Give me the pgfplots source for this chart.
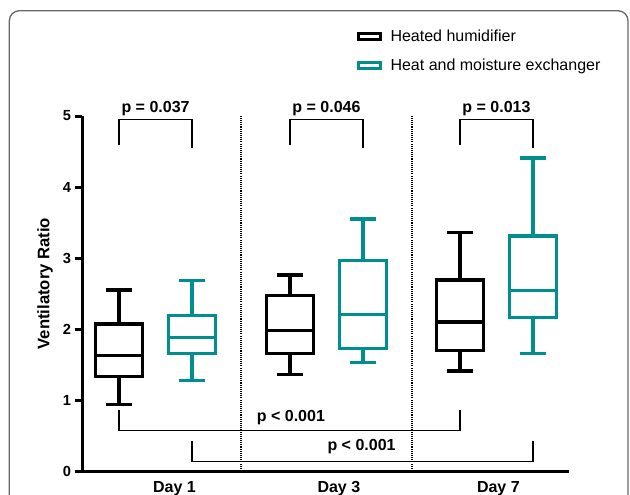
\documentclass[border=0pt]{standalone}
\usepackage{pgfplots}
\pgfplotsset{compat=1.18}
\usepgfplotslibrary{statistics}
\usepackage{fontspec}
\setmainfont{Liberation Sans}
\definecolor{hme}{RGB}{0,142,142}
\definecolor{framegray}{RGB}{105,105,105}

\begin{document}
\begin{tikzpicture}
% page = 630x494 px at 0.75pt per px, axis origin at px (82,471)
\path[use as bounding box] (-61.5pt,-17.25pt) rectangle (411pt,353.25pt);
\draw[framegray, line width=1pt, rounded corners=7.5pt] (-54.5pt,-40pt) rectangle (409.5pt,345.2pt);
\begin{axis}[
  at={(0pt,0pt)}, anchor=south west,
  scale only axis, width=365.25pt, height=266.25pt,
  xmin=0, xmax=20, ymin=0, ymax=5,
  axis lines*=left,
  axis line style={line width=2.25pt},
  clip=false,
  ytick={0,1,2,3,4,5},
  xtick={3.8,10.55,17.1},
  xticklabels={Day 1, Day 3, Day 7},
  xtick style={draw=none},
  ytick style={line width=2.25pt, black},
  tick align=outside,
  major tick length=5.25pt,
  /pgf/number format/assume math mode=true,
  yticklabel style={font=\bfseries\fontsize{11}{12}\selectfont, xshift=0.5pt},
  xticklabel style={font=\bfseries\fontsize{12}{14}\selectfont, yshift=1pt},
  ylabel={Ventilatory Ratio},
  ylabel style={font=\bfseries\fontsize{12.5}{14}\selectfont, at={(axis description cs:-0.076,0.528)}, anchor=center},
  legend style={at={(axis description cs:0.565,1.25)}, anchor=north west, draw=none, fill=none,
    font=\fontsize{12}{14}\selectfont, row sep=7.5pt, inner sep=0pt},
  legend cell align=left,
  legend image code/.code={\draw[#1, line width=2.25pt, fill=none] (0pt,-2.25pt) rectangle (16.5pt,2.25pt);
    \path (21.5pt,0pt);},
  boxplot/draw direction=y,
  boxplot/box extend=1.95,
  boxplot/whisker extend=1.07,
]
\addlegendimage{black}
\addlegendentry{Heated humidifier}
\addlegendimage{hme}
\addlegendentry{Heat and moisture exchanger}

% Day 1
\addplot[black, line width=2.4pt, boxplot prepared={draw position=1.52,
  lower whisker=0.94, lower quartile=1.33, median=1.63, upper quartile=2.07, upper whisker=2.55}] coordinates {};
\addplot[hme, line width=2.4pt, boxplot prepared={draw position=4.52,
  lower whisker=1.27, lower quartile=1.65, median=1.88, upper quartile=2.19, upper whisker=2.68}] coordinates {};
% Day 3
\addplot[black, line width=2.4pt, boxplot prepared={draw position=8.54,
  lower whisker=1.36, lower quartile=1.65, median=1.98, upper quartile=2.47, upper whisker=2.76}] coordinates {};
\addplot[hme, line width=2.4pt, boxplot prepared={draw position=11.54,
  lower whisker=1.53, lower quartile=1.73, median=2.20, upper quartile=2.96, upper whisker=3.55}] coordinates {};
% Day 7
\addplot[black, line width=2.4pt, boxplot prepared={draw position=15.52,
  lower whisker=1.41, lower quartile=1.70, median=2.10, upper quartile=2.69, upper whisker=3.36}] coordinates {};
\addplot[hme, line width=2.4pt, boxplot prepared={draw position=18.52,
  lower whisker=1.66, lower quartile=2.16, median=2.54, upper quartile=3.31, upper whisker=4.41}] coordinates {};

% separators
\addplot[black, line width=1pt, dash pattern=on 0.8pt off 0.8pt] coordinates {(6.53,0) (6.53,5)};
\addplot[black, line width=1pt, dash pattern=on 0.8pt off 0.8pt] coordinates {(13.55,0) (13.55,5)};

% significance brackets
\addplot[black, line width=1pt] coordinates {(1.52,4.59) (1.52,4.95) (4.52,4.95) (4.52,4.55)};
\addplot[black, line width=1pt] coordinates {(8.54,4.59) (8.54,4.95) (11.54,4.95) (11.54,4.55)};
\addplot[black, line width=1pt] coordinates {(15.52,4.59) (15.52,4.95) (18.52,4.95) (18.52,4.55)};
\addplot[black, line width=1pt] coordinates {(1.52,0.86) (1.52,0.57) (15.52,0.57) (15.52,0.86)};
\addplot[black, line width=1pt] coordinates {(4.52,0.42) (4.52,0.13) (18.52,0.13) (18.52,0.42)};

\begin{scope}[every node/.style={font=\bfseries\fontsize{12}{14}\selectfont, inner sep=0pt}]
\node at (axis cs:3.02,5.10) {p = 0.037};
\node at (axis cs:10.04,5.10) {p = 0.046};
\node at (axis cs:17.02,5.10) {p = 0.013};
\node at (axis cs:8.58,0.75) {p < 0.001};
\node at (axis cs:11.48,0.34) {p < 0.001};
\end{scope}
\end{axis}
\end{tikzpicture}
\end{document}
